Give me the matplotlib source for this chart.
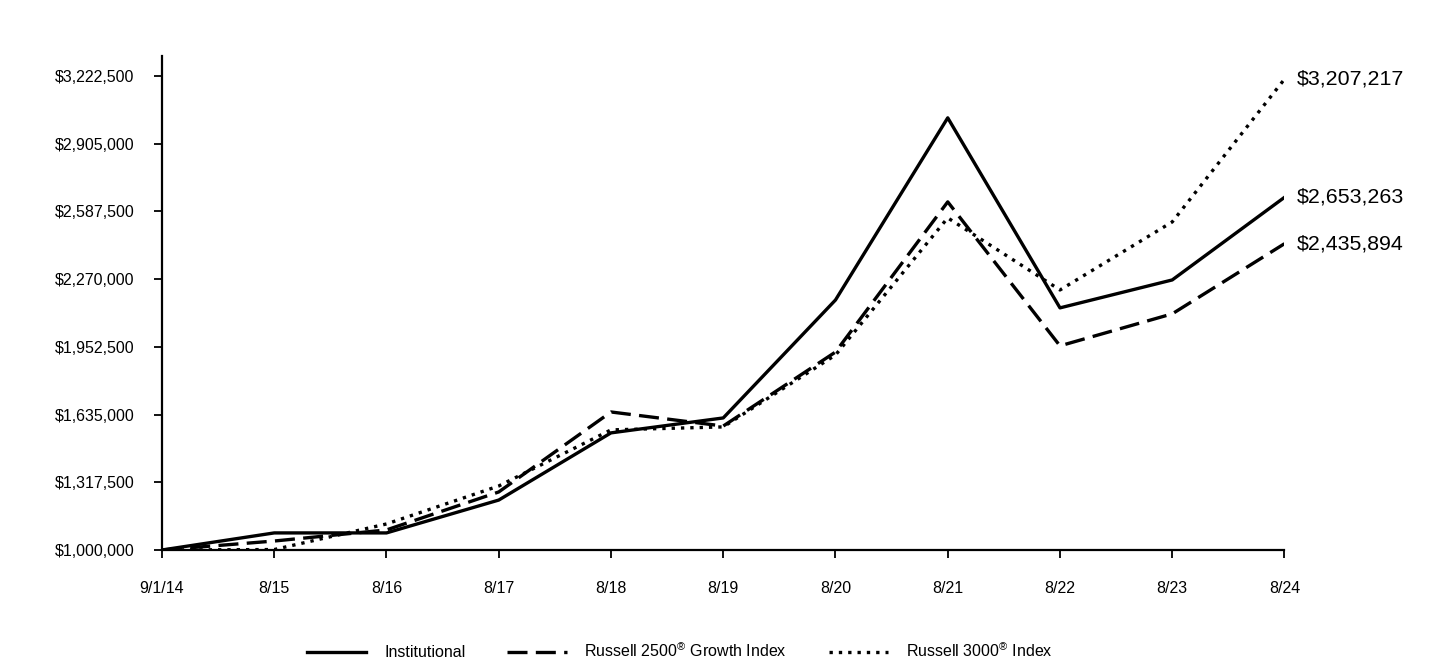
import matplotlib
matplotlib.use("Agg")
import matplotlib.pyplot as plt
from matplotlib.ticker import FuncFormatter

plt.rcParams['font.family'] = ['Liberation Sans', 'DejaVu Sans']
plt.rcParams['mathtext.fontset'] = 'custom'
plt.rcParams['mathtext.rm'] = 'Liberation Sans'

# данные
dates = ["9/1/14", "8/15", "8/16", "8/17", "8/18", "8/19", "8/20", "8/21", "8/22", "8/23", "8/24"]
institutional = [1000000, 1080000, 1080000, 1234000, 1549000, 1619000, 2172000, 3026000, 2135000, 2266000, 2653263]
russell_2500g = [1000000, 1042000, 1094000, 1272000, 1647000, 1581000, 1928000, 2632000, 1957000, 2107000, 2435894]
russell_3000 = [1000000, 1002000, 1122000, 1300000, 1563000, 1577000, 1914000, 2557000, 2219000, 2538000, 3207217]
yticks = [1000000, 1317500, 1635000, 1952500, 2270000, 2587500, 2905000, 3222500]

fig = plt.figure(figsize=(14.4, 6.6), dpi=100)
ax = fig.add_axes([0.1125, 0.1667, 0.7795, 0.7485])

x = list(range(len(dates)))
lw = 2.4
ax.plot(x, institutional, color="black", lw=lw, ls="-", label="Institutional")
ax.plot(x, russell_2500g, color="black", lw=lw, ls=(0, (6, 2.5)), label="Russell 2500$^{®}$ Growth Index")
ax.plot(x, russell_3000, color="black", lw=lw, ls=(0, (1, 1.8)), label="Russell 3000$^{®}$ Index")

for series in (institutional, russell_2500g, russell_3000):
    ax.annotate("${:,.0f}".format(series[-1]), xy=(x[-1], series[-1]), xytext=(9, 0),
                textcoords="offset points", va="center", ha="left", fontsize=15.4)

ax.set_xlim(0, len(dates) - 1)
ax.set_ylim(1000000, 3316000)
ax.set_xticks(x)
ax.set_xticklabels(dates)
ax.set_yticks(yticks)
ax.yaxis.set_major_formatter(FuncFormatter(lambda v, p: "${:,.0f}".format(v)))

for s in ("top", "right"):
    ax.spines[s].set_visible(False)
for s in ("left", "bottom"):
    ax.spines[s].set_linewidth(1.6)
ax.tick_params(axis="both", direction="out", width=1.3, length=6, labelsize=11.5)
ax.tick_params(axis="x", pad=16)
ax.tick_params(axis="y", pad=14)

fig.legend(loc="lower center", bbox_to_anchor=(0.472, -0.022), ncol=3, frameon=False,
           fontsize=11.5, handlelength=3.75, handletextpad=1.1, columnspacing=2.6)

fig.savefig("out.png", dpi=100)
